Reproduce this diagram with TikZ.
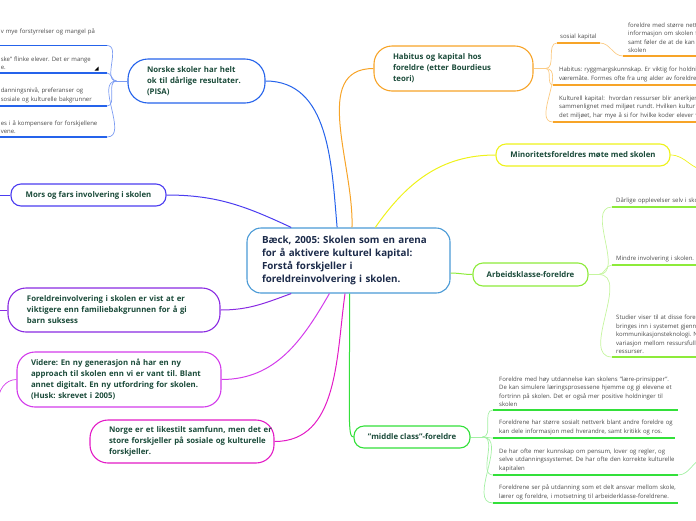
\documentclass[tikz,border=0pt]{standalone}
\usepackage{fontspec}
\setmainfont{Open Sans}
\usetikzlibrary{positioning}
\definecolor{topictext}{HTML}{1B4B3A}
\definecolor{centertext}{HTML}{1C2B4A}
\definecolor{leaftext}{HTML}{4A4A4A}
\definecolor{hubblue}{HTML}{4A9AD6}
\definecolor{pisablue}{HTML}{2563EB}
\definecolor{pisalight}{HTML}{7C9CF2}
\definecolor{morsviolet}{HTML}{4B3CF0}
\definecolor{fiviolet}{HTML}{8A2BE2}
\definecolor{vidmagenta}{HTML}{D33CEB}
\definecolor{norgepink}{HTML}{E31BC6}
\definecolor{haborange}{HTML}{F7A428}
\definecolor{hablight}{HTML}{FBCB84}
\definecolor{minyellow}{HTML}{EEF21A}
\definecolor{arbgreen}{HTML}{8DEB3A}
\definecolor{arblight}{HTML}{C5F59E}
\definecolor{midgreen}{HTML}{33E03A}
\definecolor{midlight}{HTML}{A3F0A3}
\newcommand{\centerfont}{\bfseries\fontsize{9.8}{13}\selectfont}
\newcommand{\topicfont}{\bfseries\fontsize{7.8}{11}\selectfont}
\newcommand{\leaffont}{\fontsize{6}{8.5}\selectfont}
\frenchspacing

\begin{document}
\begin{tikzpicture}[x=1pt, y=1pt,
    topic/.style={draw=#1, fill=white, line width=1.1pt, rounded corners=10pt, font=\topicfont, text=topictext, inner sep=0pt, align=left},
    leaf/.style={font=\leaffont, text=leaftext, align=left, inner xsep=5pt, inner ysep=3pt, text width=200pt, anchor=south west},
    uline/.style={draw=#1, line width=1.6pt},
    link/.style={draw=#1, line width=1pt},
    twig/.style={draw=#1, line width=0.7pt}]
    \useasboundingbox (0,0) rectangle (696,-520);
    \clip (0,0) rectangle (696,-520);

    % Hovedtema
    \node[topic=hubblue, rounded corners=14pt, font=\centerfont, text=centertext, minimum width=203pt, minimum height=65pt, text width=173pt] (c) at (348.5,-260.5)
        {Bæck, 2005: Skolen som en arena\\for å aktivere kulturel kapital:\\Forstå forskjeller i\\foreldreinvolvering i skolen.};

    % Venstre side
    \node[topic=pisablue, rounded corners=20pt, minimum width=137pt, minimum height=44pt, text width=99pt] (norske) at (196.5,-81)
        {Norske skoler har helt\\ok til dårlige resultater.\\(PISA)};
    \node[topic=morsviolet, minimum width=155pt, minimum height=22pt, align=center] (mors) at (88.5,-195)
        {Mors og fars involvering i skolen};
    \node[topic=fiviolet, rounded corners=18pt, minimum width=212pt, minimum height=44pt, text width=174pt] (fi) at (114,-310)
        {Foreldreinvolvering i skolen er vist at er\\viktigere enn familiebakgrunnen for å gi\\barn suksess};
    \node[topic=vidmagenta, rounded corners=18pt, minimum width=204pt, minimum height=55pt, text width=176pt] (vid) at (119,-379.5)
        {Videre: En ny generasjon nå har en ny\\approach til skolen enn vi er vant til. Blant\\annet digitalt. En ny utfordring for skolen.\\(Husk: skrevet i 2005)};
    \node[topic=norgepink, rounded corners=18pt, minimum width=184pt, minimum height=43pt, text width=146pt] (norge) at (182,-441.5)
        {\mbox{Norge er et likestilt samfunn, men det er}\\\mbox{store forskjeller på sosiale og kulturelle}\\forskjeller.};

    % Høyre side
    \node[topic=haborange, rounded corners=18pt, minimum width=159pt, minimum height=45pt, text width=121pt] (hab) at (453.5,-68.5)
        {Habitus og kapital hos\\foreldre (etter Bourdieus\\teori)};
    \node[topic=minyellow, minimum width=174pt, minimum height=22pt, align=center] (min) at (583,-155)
        {Minoritetsforeldres møte med skolen};
    \node[topic=arbgreen, minimum width=115pt, minimum height=23pt, align=center] (arb) at (530.5,-274.5)
        {Arbeidsklasse-foreldre};
    \node[topic=midgreen, minimum width=116pt, minimum height=22pt, align=center] (mid) at (412,-437)
        {"middle class"-foreldre};

    % Greiner fra hovedtema
    \draw[link=pisablue] (c.109) to[out=95,in=0] (norske.east);
    \draw[link=morsviolet] (c.150) to[out=155,in=0] (mors.east);
    \draw[link=fiviolet] (c.210) to[out=200,in=0] (fi.east);
    \draw[link=vidmagenta] (c.240) to[out=240,in=0] (vid.east);
    \draw[link=norgepink] (c.264) to[out=262,in=0] (norge.east);
    \draw[link=haborange] (c.84) to[out=88,in=180] (hab.west);
    \draw[link=minyellow] (c.51) to[out=55,in=180] (min.west);
    \draw[link=arbgreen] (c.353) to[out=0,in=180] (arb.west);
    \draw[link=midgreen] (c.272) .. controls +(0,-125) and +(-6,0) .. (mid.west);

    % Løse ender
    \coordinate (morsend) at (-6,-195);
    \coordinate (fiend) at (-6,-310);
    \coordinate (vidend) at (-2,-402);
    \coordinate (minend) at (706,-170);
    \draw[twig=morsviolet] (mors.west) -- (morsend);
    \draw[twig=fiviolet] (fi.west) -- (fiend);
    \draw[twig=vidmagenta] (vid.west) to[out=180,in=90] (vidend);
    \draw[twig=minyellow] (min.east) to[out=0,in=180] (minend);

    % PISA
    \node[leaf, anchor=south east, inner xsep=2pt, text width=104pt] (p1) at (107,-45.5) {v mye forstyrrelser og mangel på\\~};
    \node[leaf, anchor=south east, inner xsep=2pt, text width=104pt] (p2) at (107,-73) {ske" flinke elever. Det er mange\\e.};
    \node[leaf, anchor=south east, inner xsep=2pt, text width=104pt] (p3) at (107,-106) {danningsnivå, preferanser og\\sosiale og kulturelle bakgrunner};
    \node[leaf, anchor=south east, inner xsep=2pt, text width=104pt] (p4) at (107,-137) {es i å kompensere for forskjellene\\vene.};
    \fill (94.5,-70.5) -- (98.5,-70.5) -- (98.5,-66.5) -- cycle;
    \coordinate[left=11pt of norske.west] (pisahub);
    \draw[twig=pisalight] (norske.west) -- (pisahub);
    \foreach \l in {p1,p2,p3,p4} {
        \draw[uline=pisablue] (\l.south east) -- ++(-112,0);
        \draw[twig=pisalight] (pisahub) to[out=180,in=0] (\l.south east);
    }

    % Habitus
    \node[leaf, inner xsep=3pt] (h1) at (557,-43) {sosial kapital};
    \node[leaf] (h1a) at (623,-56) {foreldre med større nettverk\\informasjon om skolen fra\\samt føler de at de kan være\\skolen};
    \node[leaf, inner xsep=6pt] (h2) at (553,-85) {Habitus: ryggmargskunnskap. Er viktig for holdninger\\væremåte. Formes ofte fra ung alder av foreldre};
    \node[leaf, inner xsep=6pt] (h3) at (553,-122) {Kulturell kapital:\ \ hvordan ressurser blir anerkjent\\sammenlignet med miljøet rundt. Hvilken kultur er\\det miljøet, har mye å si for hvilke koder elever vil};
    \coordinate[right=12pt of hab.east] (habhub);
    \coordinate[right=43pt of h1.south west] (h1end);
    \draw[twig=hablight] (hab.east) -- (habhub);
    \foreach \l in {h1,h2,h3}
        \draw[twig=hablight] (habhub) to[out=0,in=180] (\l.south west);
    \draw[uline=haborange] (h1.south west) -- (h1end);
    \draw[twig=hablight] (h1end) to[out=0,in=180] (h1a.south west);
    \foreach \l in {h1a,h2,h3}
        \draw[uline=haborange] (\l.south west) -- ++(160,0);

    % Arbeidsklasse
    \node[leaf, inner xsep=4pt] (a1) at (612,-207) {Dårlige opplevelser selv i skolen};
    \node[leaf, inner xsep=4pt] (a2) at (612,-265) {Mindre involvering i skolen.};
    \node[leaf, inner xsep=4pt] (a3) at (612,-357) {Studier viser til at disse foreldre\\bringes inn i systemet gjennom\\kommunikasjonsteknologi. Ny\\variasjon mellom ressursfulle\\ressurser.};
    \coordinate[right=10pt of arb.east] (arbhub);
    \draw[twig=arblight] (arb.east) -- (arbhub);
    \foreach \l in {a1,a2,a3} {
        \draw[twig=arblight] (arbhub) to[out=0,in=180] (\l.south west);
        \draw[uline=arbgreen] (\l.south west) -- ++(100,0);
    }

    % Middle class
    \node[leaf, inner xsep=6pt] (m1) at (493,-410) {Foreldre med høy utdannelse kan skolens "lære-prinsipper".\\De kan simulere læringsprosessene hjemme og gi elevene et\\fortrinn på skolen. Det er også mer positive holdninger til\\skolen};
    \node[leaf, inner xsep=6pt] (m2) at (493,-438) {Foreldrene har større sosialt nettverk blant andre foreldre og\\kan dele informasjon med hverandre, samt kritikk og ros.};
    \node[leaf, inner xsep=6pt] (m3) at (493,-475) {De har ofte mer kunnskap om pensum, lover og regler, og\\selve utdanningssystemet. De har ofte den korrekte kulturelle\\kapitalen};
    \node[leaf, inner xsep=6pt] (m4) at (493,-503) {Foreldrene ser på utdanning som et delt ansvar mellom skole,\\lærer og foreldre, i motsetning til arbeiderklasse-foreldrene.};
    \coordinate[right=12pt of mid.east] (midhub);
    \coordinate[right=185pt of m3.south west] (m3end);
    \coordinate (m3next) at (706,-458);
    \draw[twig=midlight] (mid.east) -- (midhub);
    \foreach \l/\len in {m1/185,m2/182,m3/185,m4/185} {
        \draw[twig=midlight] (midhub) to[out=0,in=180] (\l.south west);
        \draw[uline=midgreen] (\l.south west) -- ++(\len,0);
    }
    \draw[twig=midlight] (m3end) to[out=0,in=180] (m3next);
\end{tikzpicture}
\end{document}
